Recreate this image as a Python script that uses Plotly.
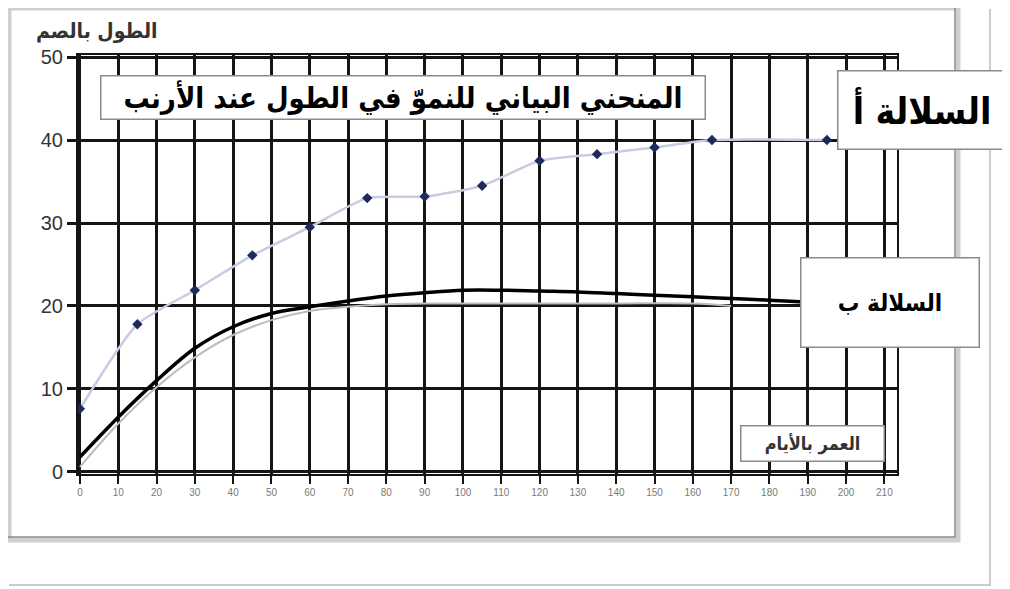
import plotly.graph_objects as go

# ---- data ----
days_a = [0, 15, 30, 45, 60, 75, 90, 105, 120, 135, 150, 165, 195]
len_a = [7.6, 17.8, 21.9, 26.1, 29.5, 33.0, 33.2, 34.5, 37.5, 38.3, 39.1, 40.0, 40.0]

days_b = [0, 10, 20, 30, 40, 50, 60, 70, 80, 90, 100, 110, 120, 130, 140, 150, 160, 170, 180, 188]
len_b = [1.8, 6.6, 11.0, 14.9, 17.5, 19.1, 19.9, 20.6, 21.2, 21.6, 21.9, 21.9, 21.8, 21.7, 21.5, 21.3, 21.1, 20.9, 20.7, 20.5]

days_b2 = [0, 10, 20, 30, 40, 50, 60, 70, 80, 90, 100, 120, 140, 160, 170]
len_b2 = [0.6, 5.8, 10.2, 13.8, 16.5, 18.3, 19.4, 19.9, 20.2, 20.3, 20.3, 20.3, 20.3, 20.3, 20.0]

x_ticks = list(range(0, 211, 10))
y_ticks = [0, 10, 20, 30, 40, 50]

title_text = "المنحني البياني للنموّ في الطول عند الأرنب"
label_a = "السلالة أ"
label_b = "السلالة ب"
x_title = "العمر بالأيام"
y_title = "الطول بالصم"

# ---- layout geometry (page has an 8px body margin) ----
OFF = 8
W, H = 1010 - OFF, 589 - OFF
L, T = 78 - OFF, 55 - OFF
PW, PH = 819, 419
R, B = W - L - PW, H - T - PH


def xp(px):
    return (px - OFF - L) / PW


def yp(py):
    return (T + PH - (py - OFF)) / PH


fig = go.Figure()

fig.add_trace(go.Scatter(
    x=days_b2, y=len_b2, mode="lines",
    line=dict(color="#bdbdbd", width=2, shape="spline"),
    hoverinfo="skip", showlegend=False))

fig.add_trace(go.Scatter(
    x=days_a, y=len_a, mode="lines+markers",
    line=dict(color="#c9cbe0", width=2.5, shape="spline", smoothing=0.6),
    marker=dict(symbol="diamond", size=8, color="#1f2a5c"),
    name=label_a, showlegend=False))

fig.add_trace(go.Scatter(
    x=days_b, y=len_b, mode="lines",
    line=dict(color="#000000", width=3.5, shape="spline"),
    name=label_b, showlegend=False))

arabic_font = "DejaVu Sans Condensed, DejaVu Sans, sans-serif"


def box(text, x0, y0, x1, y1, size, color="#000"):
    fig.add_annotation(
        xref="paper", yref="paper",
        x=xp((x0 + x1) / 2), y=yp((y0 + y1) / 2),
        xanchor="center", yanchor="middle",
        text="<b>%s</b>" % text, showarrow=False,
        font=dict(family=arabic_font, size=size, color=color),
        bgcolor="white", bordercolor="#8a8a8a", borderwidth=1.5, borderpad=0,
        width=x1 - x0 - 3, height=y1 - y0 - 3)


box(title_text, 100, 75, 706, 120, 29)
box(label_a, 837, 70, 1007, 150, 37)
box(label_b, 800, 257, 980, 348, 24)
box(x_title, 740, 425, 885, 462, 18, "#333")

fig.add_annotation(
    xref="paper", yref="paper", x=xp(97), y=yp(31),
    xanchor="center", yanchor="middle", showarrow=False,
    text="<b>%s</b>" % y_title,
    font=dict(family=arabic_font, size=21, color="#333"))

# outer frames
fig.add_shape(type="rect", xref="paper", yref="paper",
              x0=xp(9), y0=yp(540), x1=xp(958), y1=yp(8),
              line=dict(color="#cfcfcf", width=5), layer="below")
fig.add_shape(type="rect", xref="paper", yref="paper",
              x0=xp(6), y0=yp(537), x1=xp(955), y1=yp(5),
              line=dict(color="#8c8c8c", width=1.5), layer="below")
fig.add_shape(type="line", xref="paper", yref="paper",
              x0=xp(990), y0=yp(9), x1=xp(990), y1=yp(586),
              line=dict(color="#bbbbbb", width=1.5), layer="below")
fig.add_shape(type="line", xref="paper", yref="paper",
              x0=xp(9), y0=yp(585), x1=xp(990), y1=yp(585),
              line=dict(color="#bbbbbb", width=1.5), layer="below")

fig.update_layout(
    width=W, height=H,
    margin=dict(l=L, r=R, t=T, b=B, autoexpand=False),
    paper_bgcolor="white", plot_bgcolor="white",
    showlegend=False,
)

fig.update_xaxes(
    range=[-0.5, 213.3], tickvals=x_ticks, ticktext=[str(v) for v in x_ticks],
    showgrid=True, gridcolor="#151515", gridwidth=2.8,
    zeroline=False, showline=True, linecolor="#151515", linewidth=2, mirror=True,
    ticks="outside", ticklen=8, tickwidth=2, tickcolor="#151515",
    tickfont=dict(family="Liberation Sans, Arial, sans-serif", size=10, color="#7a7a7a"),
)
fig.update_yaxes(
    range=[-0.25, 50.25], tickvals=y_ticks,
    showgrid=True, gridcolor="#151515", gridwidth=2.8,
    zeroline=False, showline=True, linecolor="#151515", linewidth=2, mirror=True,
    ticks="outside", ticklen=9, tickwidth=2.5, tickcolor="#151515",
    tickfont=dict(family="Liberation Sans, Arial, sans-serif", size=20, color="#333"),
)

fig.write_html("out.html")
